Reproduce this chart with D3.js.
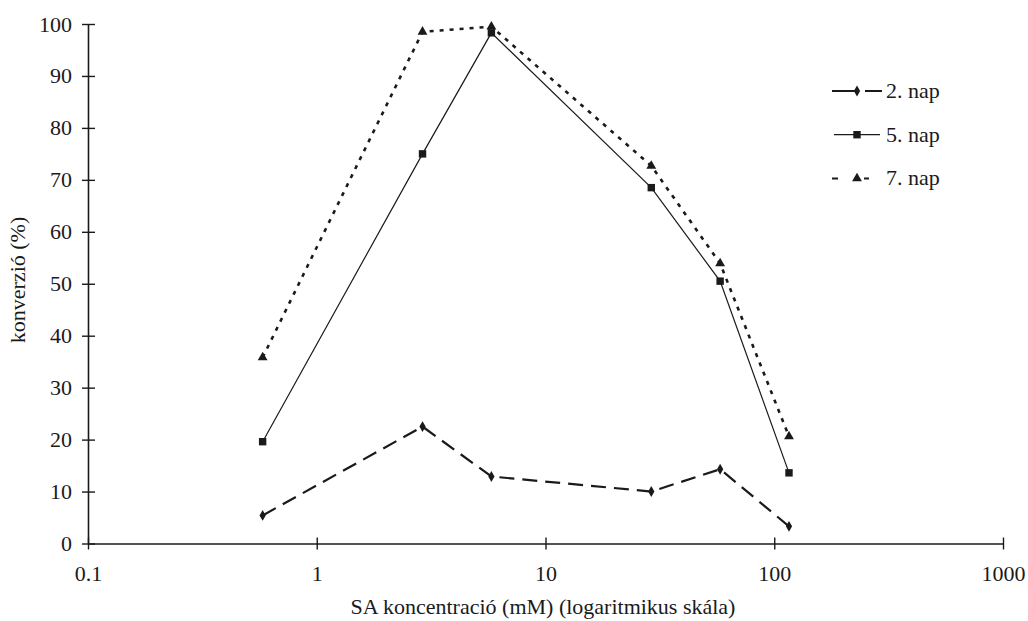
<!DOCTYPE html>
<html>
<head>
<meta charset="utf-8">
<script src="https://cdn.jsdelivr.net/npm/d3@7/dist/d3.min.js"></script>
<style>
  html, body { margin: 0; padding: 0; background: #fff; }
  svg { display: block; }
  svg text { font-family: 'Liberation Serif', 'DejaVu Serif', serif !important; fill: #1a1a1a; }
</style>
</head>
<body>
<svg id="chart" width="1028" height="621"></svg>
<script>
// SA concentrations (mM), plotted on a log axis
const concentrations = [0.58, 2.9, 5.8, 29, 58, 116];

// conversion (%) per sampling day
const day2 = [5.4, 22.5, 12.9, 10.0, 14.3, 3.3];
const day5 = [19.6, 75.0, 98.3, 68.5, 50.5, 13.6];
const day7 = [35.8, 98.5, 99.5, 72.7, 53.9, 20.6];

const seriesNames = ["2. nap", "5. nap", "7. nap"];
const xTickValues = [0.1, 1, 10, 100, 1000];
const xTickLabels = ["0.1", "1", "10", "100", "1000"];
const yTickValues = [0, 10, 20, 30, 40, 50, 60, 70, 80, 90, 100];

const series = [
  { name: seriesNames[0], values: day2, symbol: d3.symbolDiamond, size: 34,
    dash: "15,8", width: 2.2, legendDash: "27,6,17,100" },
  { name: seriesNames[1], values: day5, symbol: d3.symbolSquare, size: 55,
    dash: null, width: 1.2, legendDash: null },
  { name: seriesNames[2], values: day7, symbol: d3.symbolTriangle, size: 42,
    dash: "4,6", width: 2.6, legendDash: "6,26,5,100" }
];

const svg = d3.select("#chart");
const ink = "#1a1a1a";
const serif = "'Liberation Serif', 'DejaVu Serif', serif";
const fs = 22;

const x = d3.scaleLog().domain([0.1, 1000]).range([88, 1003]);
const y = d3.scaleLinear().domain([0, 100]).range([543.5, 24]);

// y axis with ticks crossing the axis line
const yAxis = svg.append("g")
  .attr("transform", `translate(${x(0.1)},0)`)
  .call(d3.axisLeft(y).tickValues(yTickValues).tickSize(6).tickPadding(10).tickSizeOuter(0));
yAxis.attr("font-family", serif);
yAxis.select(".domain").attr("stroke", ink).attr("stroke-width", 1.6);
yAxis.selectAll(".tick line").attr("x1", 7).attr("stroke", ink).attr("stroke-width", 1.4);
yAxis.selectAll(".tick text").attr("font-size", fs).attr("fill", ink);

// x axis on log scale, decade ticks only
const xAxis = svg.append("g")
  .attr("transform", `translate(0,${y(0)})`)
  .call(d3.axisBottom(x).tickValues(xTickValues)
    .tickFormat((d, i) => xTickLabels[i]).tickSize(6).tickPadding(16).tickSizeOuter(0));
xAxis.attr("font-family", serif);
xAxis.select(".domain").attr("stroke", ink).attr("stroke-width", 1.6);
xAxis.selectAll(".tick line").attr("y1", -6).attr("stroke", ink).attr("stroke-width", 1.4);
xAxis.selectAll(".tick text").attr("font-size", fs).attr("fill", ink);

// axis titles
svg.append("text")
  .attr("transform", "translate(25,280) rotate(-90)")
  .attr("text-anchor", "middle")
  .attr("font-size", fs)
  .text("konverzió (%)");

svg.append("text")
  .attr("x", 543)
  .attr("y", 614)
  .attr("text-anchor", "middle")
  .attr("font-size", fs)
  .text("SA koncentració (mM) (logaritmikus skála)");

// series lines and markers
const line = d3.line().x(d => x(d[0])).y(d => y(d[1]));

series.forEach(s => {
  const pts = concentrations.map((c, i) => [c, s.values[i]]);
  svg.append("path")
    .datum(pts)
    .attr("d", line)
    .attr("fill", "none")
    .attr("stroke", ink)
    .attr("stroke-width", s.width)
    .attr("stroke-dasharray", s.dash);
  svg.append("g").selectAll("path")
    .data(pts)
    .join("path")
    .attr("transform", d => `translate(${x(d[0])},${y(d[1])})`)
    .attr("d", d3.symbol().type(s.symbol).size(s.size))
    .attr("fill", ink);
});

// legend
const legend = svg.append("g").attr("transform", "translate(832,91)");
series.forEach((s, i) => {
  const row = legend.append("g").attr("transform", `translate(0,${i * 43.7})`);
  row.append("line")
    .attr("x1", i === 1 ? 2 : 0).attr("x2", i === 1 ? 48 : 50)
    .attr("y1", 0).attr("y2", 0)
    .attr("stroke", ink)
    .attr("stroke-width", i === 1 ? 1.2 : 2)
    .attr("stroke-dasharray", s.legendDash);
  row.append("path")
    .attr("transform", "translate(25,0)")
    .attr("d", d3.symbol().type(s.symbol).size(s.size))
    .attr("fill", ink);
  row.append("text")
    .attr("x", 54)
    .attr("y", 6.8)
    .attr("font-size", fs)
    .text(s.name);
});
</script>
</body>
</html>
